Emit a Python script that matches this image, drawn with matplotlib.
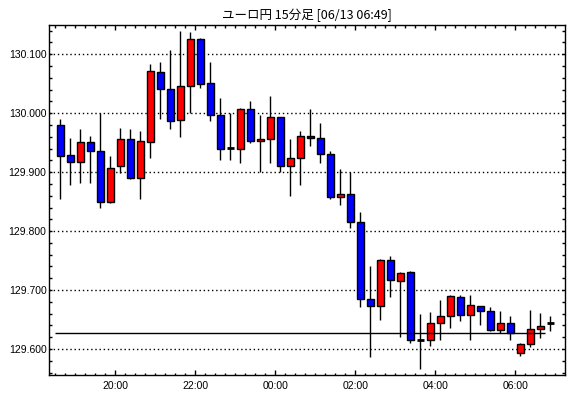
import matplotlib
matplotlib.use('Agg')
import matplotlib.pyplot as plt
from matplotlib.ticker import MultipleLocator, FixedLocator, FormatStrFormatter

plt.rcParams['font.family'] = ['Liberation Sans', 'DejaVu Sans']

title = 'ユーロ円 15分足 [06/13 06:49]'
first_bar = '18:30'   # start of the first 15 min bar
bar_minutes = 15

opens = [129.980, 129.929, 129.917, 129.951, 129.936, 129.849, 129.910, 129.957, 129.890, 129.951,
         130.069, 130.041, 129.989, 130.046, 130.125, 130.051, 129.997, 129.941, 129.939, 130.007,
         129.953, 129.956, 129.993, 129.910, 129.924, 129.962, 129.958, 129.931, 129.858, 129.863,
         129.815, 129.685, 129.673, 129.751, 129.715, 129.731, 129.616, 129.616, 129.644, 129.656,
         129.689, 129.658, 129.673, 129.664, 129.632, 129.644, 129.593, 129.608, 129.634, 129.645]
highs = [129.990, 129.958, 129.973, 129.962, 130.000, 129.928, 129.975, 129.973, 129.970, 130.084,
         130.087, 130.107, 130.139, 130.137, 130.127, 130.087, 130.026, 130.000, 130.008, 130.021,
         129.997, 130.029, 129.994, 129.957, 129.970, 130.007, 129.983, 129.936, 129.906, 129.900,
         129.833, 129.740, 129.753, 129.757, 129.731, 129.733, 129.660, 129.663, 129.684, 129.692,
         129.691, 129.691, 129.673, 129.672, 129.664, 129.656, 129.610, 129.667, 129.661, 129.656]
lows = [129.855, 129.879, 129.882, 129.882, 129.840, 129.847, 129.899, 129.888, 129.855, 129.924,
        129.990, 129.973, 129.960, 130.000, 130.042, 129.986, 129.920, 129.921, 129.915, 129.949,
        129.900, 129.915, 129.900, 129.860, 129.878, 129.945, 129.915, 129.854, 129.844, 129.805,
        129.671, 129.586, 129.649, 129.689, 129.621, 129.610, 129.567, 129.606, 129.615, 129.635,
        129.647, 129.616, 129.640, 129.630, 129.627, 129.616, 129.588, 129.603, 129.618, 129.630]
closes = [129.928, 129.917, 129.951, 129.935, 129.849, 129.907, 129.957, 129.890, 129.953, 130.071,
          130.041, 129.986, 130.046, 130.125, 130.050, 129.997, 129.939, 129.941, 130.007, 129.953,
          129.957, 129.993, 129.910, 129.924, 129.961, 129.958, 129.931, 129.858, 129.863, 129.815,
          129.685, 129.673, 129.751, 129.717, 129.729, 129.615, 129.616, 129.644, 129.656, 129.690,
          129.658, 129.675, 129.664, 129.632, 129.644, 129.627, 129.608, 129.634, 129.639, 129.645]

ref_level = 129.627
time_labels = ['20:00', '22:00', '00:00', '02:00', '04:00', '06:00']


def to_pos(hhmm):
    h, m = map(int, hhmm.split(':'))
    h0, m0 = map(int, first_bar.split(':'))
    delta = ((h * 60 + m) - (h0 * 60 + m0)) % 1440
    return delta / bar_minutes - 0.5


fig = plt.figure(figsize=(5.7, 3.98), dpi=100)
fig.patch.set_facecolor('white')
ax = fig.add_axes([49.3 / 570, 23 / 398, (565 - 49.3) / 570, (375 - 24.7) / 398])

n = len(opens)
x = list(range(n))

ax.vlines(x, lows, highs, color='black', linewidth=1, zorder=2)

for i in x:
    o, c = opens[i], closes[i]
    if abs(c - o) < 0.0005:
        ax.hlines(o, i - 0.33, i + 0.33, color='black', linewidth=2, zorder=3)
        continue
    color = '#ff0000' if c > o else '#0000ff'
    ax.bar(i, c - o, bottom=o, width=0.66, color=color, edgecolor='black',
           linewidth=1, zorder=3)

ax.hlines(ref_level, -0.5, n - 1.5, color='black', linewidth=1, zorder=4)

ax.set_xlim(-1.1, 50.47)
ax.set_ylim(129.556, 130.150)

ax.yaxis.set_major_locator(MultipleLocator(0.1))
ax.yaxis.set_minor_locator(MultipleLocator(0.02))
ax.yaxis.set_major_formatter(FormatStrFormatter('%.3f'))
ax.grid(axis='y', which='major', color='black', linestyle=(0, (1, 2)), linewidth=1)
ax.set_axisbelow(True)

ax.xaxis.set_major_locator(FixedLocator([to_pos(t) for t in time_labels]))
ax.set_xticklabels(time_labels)
ax.xaxis.set_minor_locator(FixedLocator([i - 0.5 for i in range(n + 1)]))

ax.tick_params(axis='both', which='both', direction='in', top=True, right=True,
               width=1, color='black', labelsize=7.5, labelcolor='black')
ax.tick_params(axis='y', which='both', length=2.2, pad=2)
ax.tick_params(axis='x', which='major', length=3.6, pad=4.5)
ax.tick_params(axis='x', which='minor', length=1.8)

for s in ax.spines.values():
    s.set_linewidth(1)
    s.set_color('black')

ax.set_title(title, fontsize=9, pad=4,
             family=['Noto Sans CJK JP', 'DejaVu Sans'])

fig.savefig('out.png', dpi=100, facecolor='white')
